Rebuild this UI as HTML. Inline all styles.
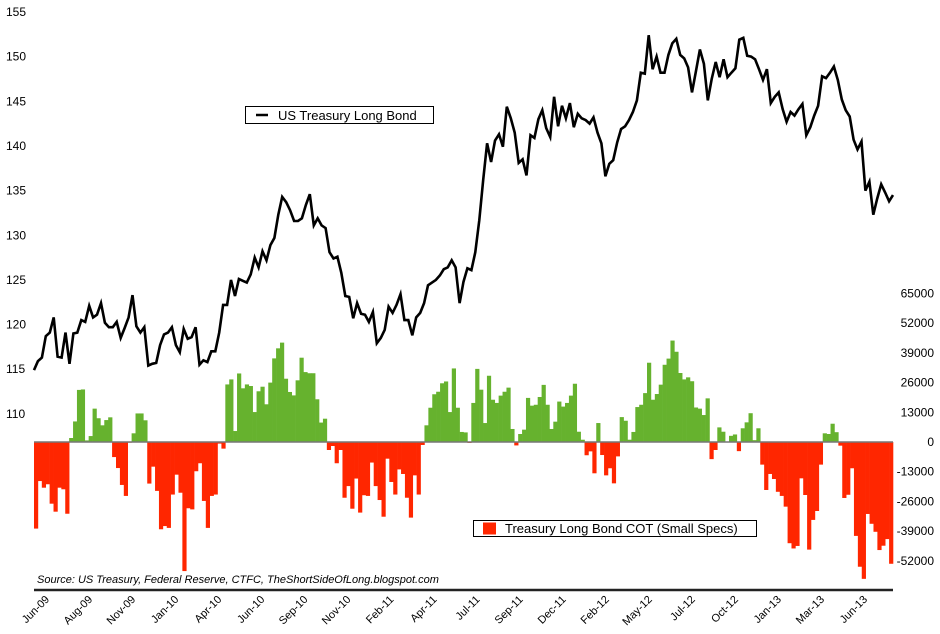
<!DOCTYPE html>
<html><head><meta charset="utf-8"><style>
html,body{margin:0;padding:0;background:#fff}
svg{display:block;font-family:"Liberation Sans",sans-serif}
</style></head><body>
<svg id="chart" width="940" height="634" viewBox="0 0 940 634"></svg>
<script>
const priceValues=[114.9,115.9,116.3,118.7,119.1,120.8,116.4,116.3,119.1,115.6,119.0,119.1,120.5,120.3,122.1,120.8,121.1,122.4,120.2,119.7,119.7,120.3,118.5,119.6,120.8,123.3,119.8,119.1,119.7,115.4,115.6,115.7,117.7,118.9,119.1,119.7,117.7,116.9,119.5,118.4,118.6,119.7,115.5,116.0,115.8,117.0,117.0,119.1,122.2,122.2,125.0,123.2,125.1,124.9,124.7,125.6,
127.5,126.4,128.2,127.2,128.9,129.7,132.3,134.3,133.7,132.8,131.6,131.6,131.9,133.4,134.6,131.1,131.9,131.1,130.8,128.1,127.4,127.6,125.8,123.2,123.1,120.7,122.4,121.2,121.1,120.3,121.4,117.9,118.5,119.4,122.0,121.3,122.2,123.4,120.5,120.5,118.8,120.8,121.3,122.4,124.4,124.7,125.0,125.5,126.2,126.4,127.2,126.4,122.4,124.8,
126.3,126.1,128.1,131.7,136.2,140.3,138.2,140.6,141.3,139.9,144.4,143.1,141.5,138.1,138.5,136.7,141.2,140.9,143.0,144.0,142.0,141.0,145.5,142.2,144.5,143.1,144.8,142.1,143.6,143.1,142.9,142.5,143.2,141.5,140.3,136.6,138.0,138.4,140.4,141.9,142.2,142.9,143.8,145.1,148.2,148.1,152.4,148.6,150.0,148.2,148.2,150.2,151.5,152.0,
150.2,149.8,148.8,146.0,148.4,150.8,149.2,145.1,147.5,149.4,147.7,149.7,147.7,148.2,148.7,151.9,152.1,150.1,150.0,149.7,148.6,147.4,148.6,144.8,145.5,146.0,144.1,142.7,143.8,143.4,144.1,144.7,141.2,142.1,143.4,144.5,147.8,147.6,148.2,148.9,147.4,145.2,144.0,143.3,140.7,139.6,140.5,135.0,136.0,132.3,134.1,135.7,134.8,133.8,134.5];
const cotValues=[-37900,-17100,-20000,-18500,-27000,-30500,-20000,-20700,-31400,1750,9000,22800,23000,700,2600,14600,10400,7300,9600,10800,-6600,-11400,-18800,-23600,-300,3800,12500,12500,9500,-18200,-10800,-21400,-38200,-36800,-37600,-23000,-14300,-22200,-56500,-29000,-29500,-12800,-9300,-25800,-37600,-23600,-23000,-700,-2900,25200,27400,4800,30000,23500,25200,
24500,13100,22200,24200,16500,26000,36600,41000,43500,27700,21900,20400,27000,36900,30600,30100,30100,18700,8500,10200,-3500,-1750,-9300,-3500,-24400,-19300,-29200,-16000,-30900,-23300,-23600,-9000,-19300,-25400,-32700,-7300,-17500,-23000,-12000,-14000,-24400,-33100,-14600,-23000,-1300,7300,15000,20900,22000,25700,26500,13100,32200,15000,4400,
4200,-400,17100,32000,22900,8300,29000,18500,17100,20300,22000,23800,5700,-1500,3500,5400,19300,15900,16300,19700,25000,16300,5700,8900,17700,15500,17100,20300,25500,4500,1000,-5800,-4100,-13700,8300,-5700,-14600,-11500,-18100,-6300,10900,9300,1000,4400,15300,16300,21400,34700,18500,21000,25100,33800,36500,44400,39500,
30200,27400,28300,26600,15100,14600,11800,19100,-7500,-3500,6400,4500,0,2700,3300,-4000,6000,8600,12600,800,6000,-9900,-21000,-14000,-16200,-21800,-23600,-28300,-44300,-46600,-45500,-15900,-23200,-47100,-34100,-30200,-9900,3800,3500,8000,4300,-1600,-24500,-23100,-11500,-41100,-54600,-59900,-31500,-35800,-39300,-47300,-45400,-42500,-53300];
const leftTicks=[155,150,145,140,135,130,125,120,115,110];
const rightTicks=[65000,52000,39000,26000,13000,0,-13000,-26000,-39000,-52000];
const monthLabels=["Jun-09","Aug-09","Nov-09","Jan-10","Apr-10","Jun-10","Sep-10","Nov-10","Feb-11","Apr-11","Jul-11","Sep-11","Dec-11","Feb-12","May-12","Jul-12","Oct-12","Jan-13","Mar-13","Jun-13"];

const NS="http://www.w3.org/2000/svg";
const svg=document.getElementById('chart');
const X0=34,X1=893;
function yL(v){return 12+(155-v)*8.93;}
function yR(v){return 442-v/13000*29.7;}
function el(t,a,p){const e=document.createElementNS(NS,t);for(const k in a)e.setAttribute(k,a[k]);(p||svg).appendChild(e);return e;}

// bars
const gb=el('g',{});


const bw=(X1-X0)/cotValues.length;
cotValues.forEach((v,i)=>{
  const y0=yR(0),y=yR(v);
  const r=el('rect',{x:(X0+i*bw).toFixed(2),y:Math.min(y0,y).toFixed(2),width:(bw+0.3).toFixed(2),height:Math.max(0.5,Math.abs(y-y0)).toFixed(2),fill:v>=0?'#66B22E':'#FF2600'},gb);
  
  
});
const zl=el('line',{x1:X0,x2:X1,y1:442,y2:442,stroke:'#777','stroke-width':1.5});



// price line
const step=(X1-X0)/(priceValues.length-1);
const pts=priceValues.map((v,i)=>(X0+i*step).toFixed(1)+','+yL(v).toFixed(1)).join(' ');
const pl=el('polyline',{points:pts,fill:'none',stroke:'#000','stroke-width':2.6,'stroke-linejoin':'miter'});



// axes labels
leftTicks.forEach(v=>{
  const t=el('text',{x:6,y:yL(v)+4,'font-size':12,fill:'#000'});t.textContent=v;
  
  
});
rightTicks.forEach(v=>{
  const t=el('text',{x:934,y:yR(v)+4,'font-size':12,'text-anchor':'end',fill:'#000'});t.textContent=v;
  
  
});
monthLabels.forEach((m,i)=>{
  const x=50+i*43.05,y=600;
  const t=el('text',{x:x,y:y,'font-size':11,'text-anchor':'end',transform:'rotate(-45 '+x+' '+y+')',fill:'#000'});t.textContent=m;
  
  
});
const ax=el('line',{x1:X0,x2:X1,y1:590,y2:590,stroke:'#222','stroke-width':2.5});


const src=el('text',{x:37,y:583,'font-size':11,'font-style':'italic',fill:'#000'});
src.textContent='Source: US Treasury, Federal Reserve, CTFC, TheShortSideOfLong.blogspot.com';



// legends
const lg1=el('g',{});


el('rect',{x:245.5,y:106.5,width:188,height:17,fill:'#fff',stroke:'#000','stroke-width':1},lg1);
el('line',{x1:256,x2:268,y1:115,y2:115,stroke:'#000','stroke-width':2.5},lg1);
const l1=el('text',{x:278,y:120,'font-size':13,fill:'#000'},lg1);l1.textContent='US Treasury Long Bond';
const lg2=el('g',{});


el('rect',{x:473.5,y:520.5,width:283,height:16,fill:'#fff',stroke:'#000','stroke-width':1},lg2);
el('rect',{x:483,y:522.5,width:13,height:12,fill:'#FF2600'},lg2);
const l2=el('text',{x:505,y:533,'font-size':13,fill:'#000'},lg2);l2.textContent='Treasury Long Bond COT (Small Specs)';
</script>
</body></html>
